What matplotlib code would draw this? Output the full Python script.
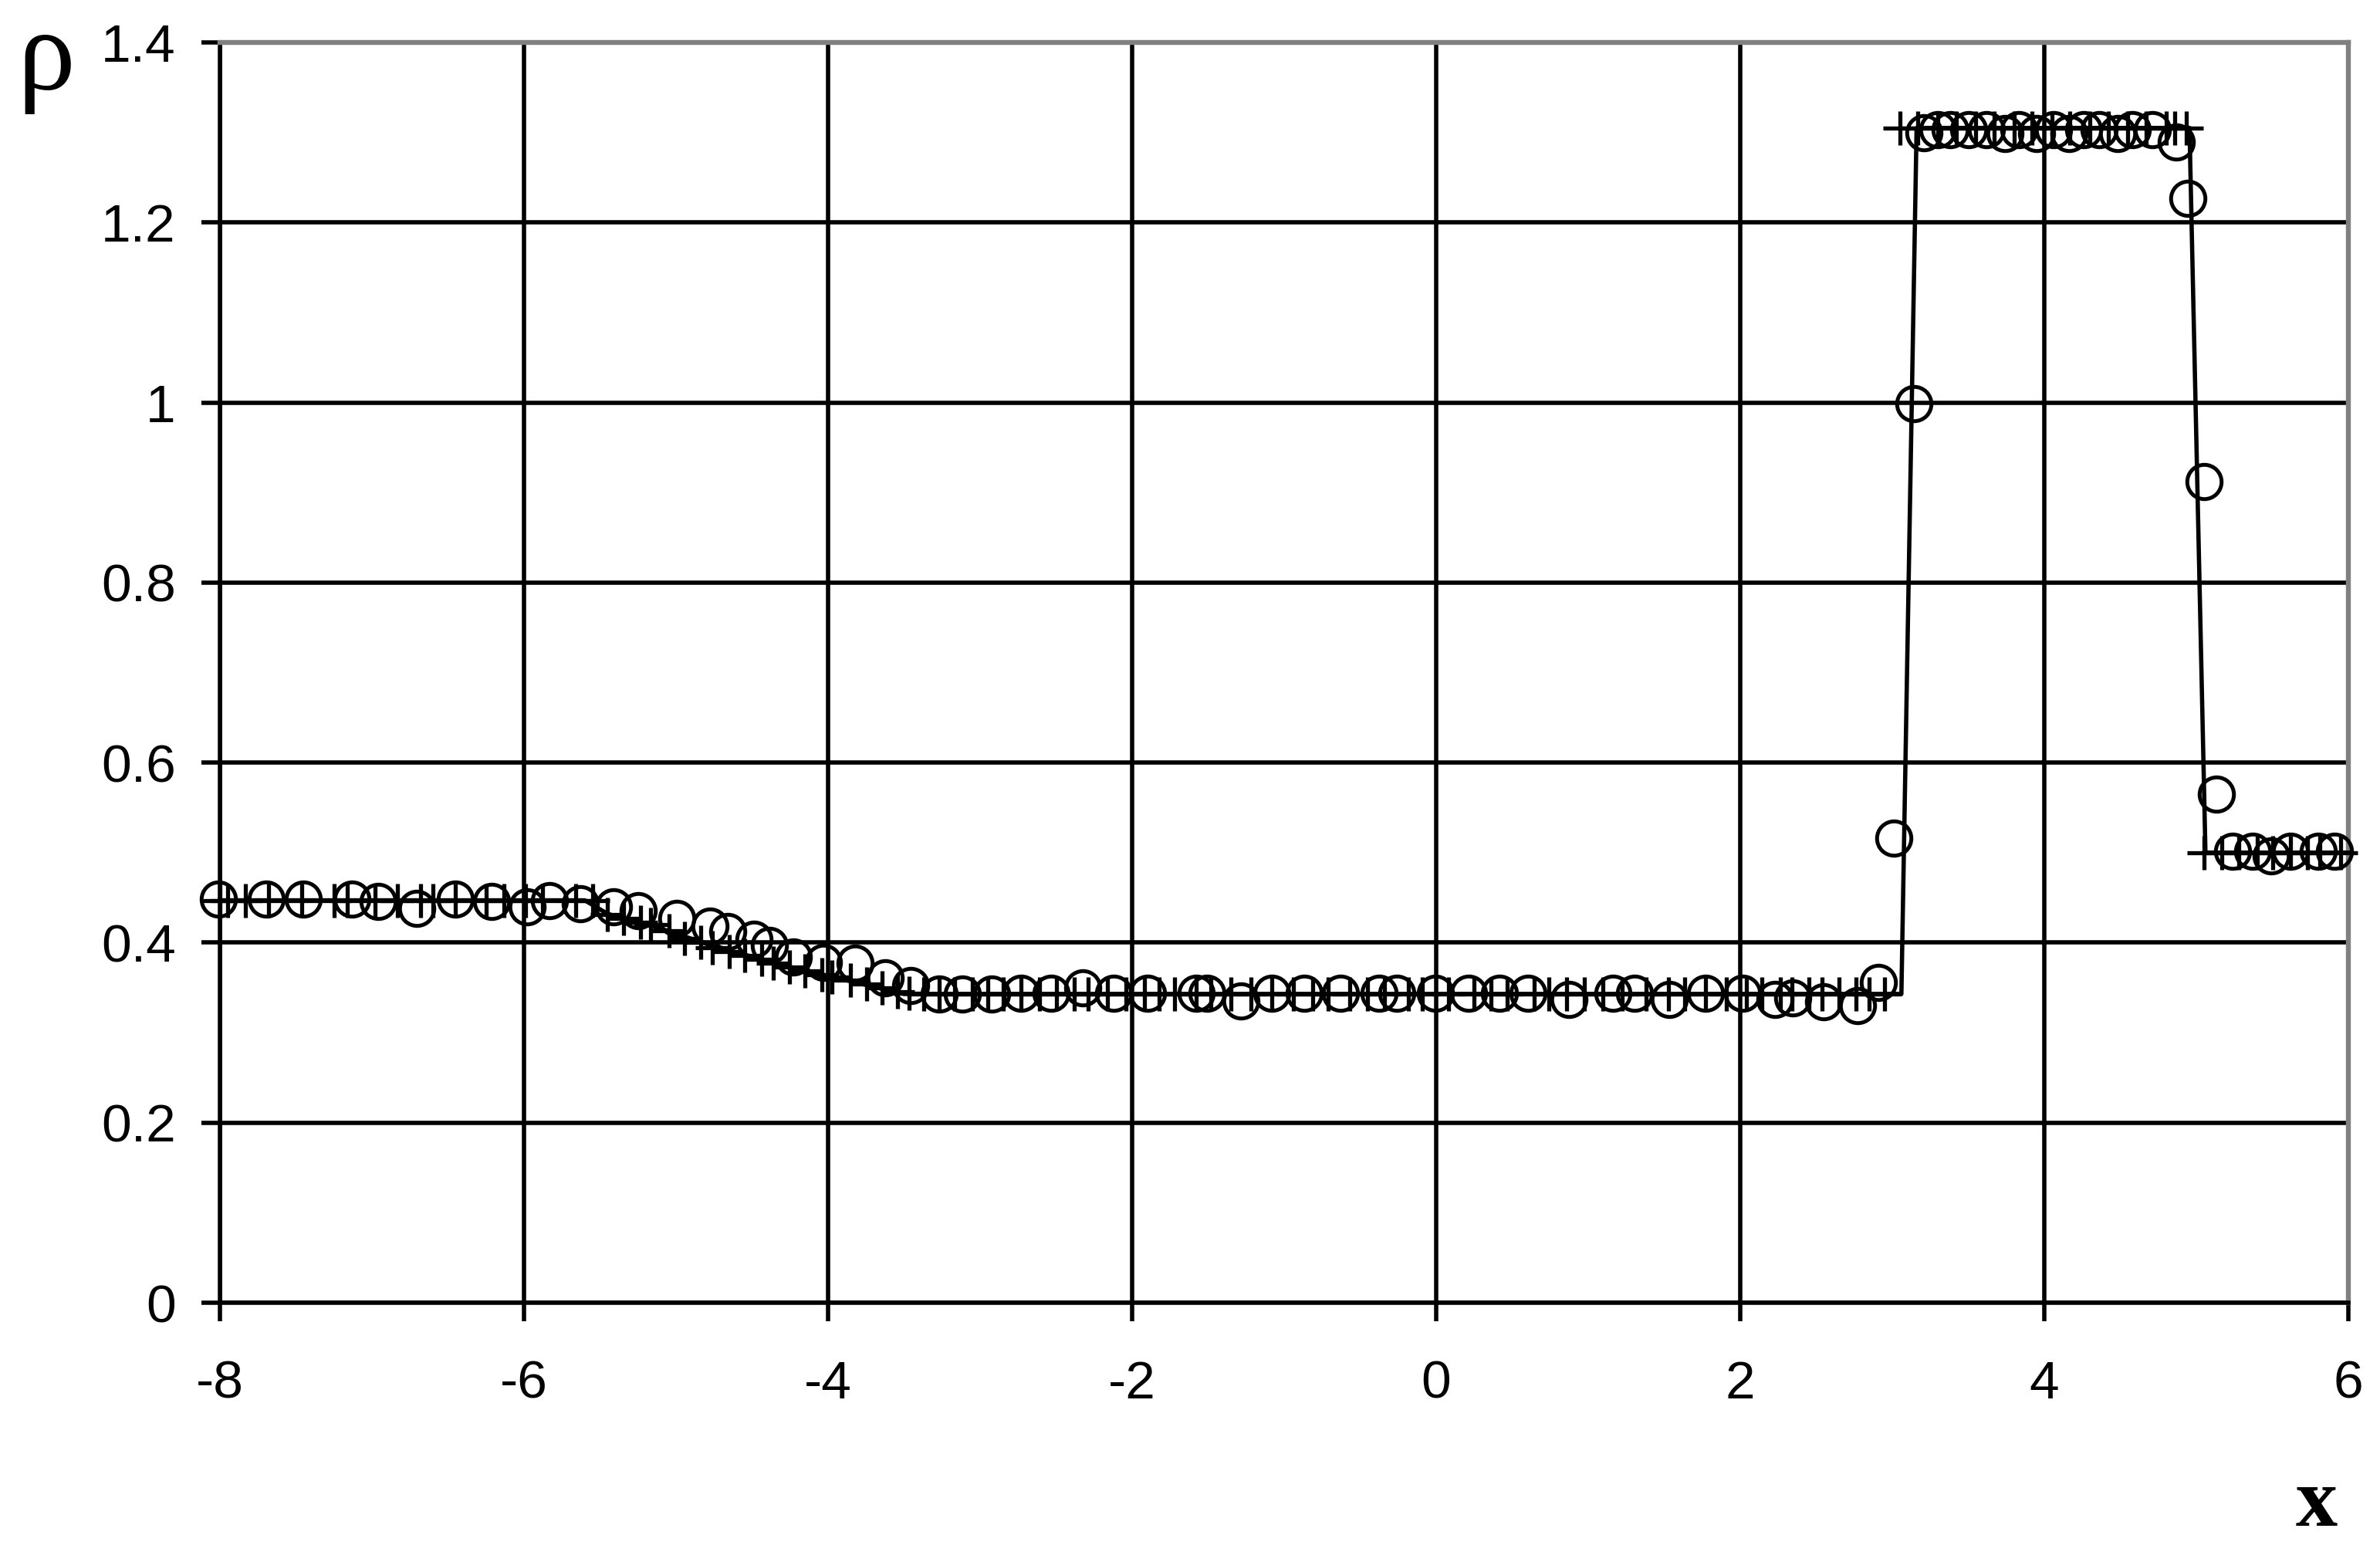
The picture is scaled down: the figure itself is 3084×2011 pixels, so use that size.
import matplotlib
matplotlib.use("Agg")
import matplotlib.pyplot as plt

plt.rcParams['axes.unicode_minus'] = False
plt.rcParams['font.family'] = ['Liberation Sans', 'DejaVu Sans']

# exact solution (solid line)
line_x = [-8.0, -5.6, -5.45, -5.05, -4.65, -4.25, -3.85, -3.5, 3.06, 3.16, 4.955, 5.06, 6.0]
line_y = [0.447, 0.447, 0.432, 0.413, 0.390, 0.373, 0.357, 0.343, 0.343, 1.305, 1.305, 0.5, 0.5]

# "+" series
plus_x = [-8.0, -7.95, -7.83, -7.68, -7.46, -7.25, -7.16, -6.98, -6.83, -6.68, -6.60, -6.45,
          -6.25, -6.13, -5.99, -5.88, -5.66, -5.55,
          -5.453, -5.344, -5.234, -5.166, -5.047, -4.946, -4.836, -4.760, -4.650, -4.548,
          -4.438, -4.362, -4.252, -4.151, -4.041, -3.973, -3.854, -3.745, -3.643, -3.542,
          -3.466, -3.37, -3.271, -3.17, -3.05, -2.95,
          -2.85, -2.73, -2.61, -2.50, -2.38, -2.29, -2.16, -2.04, -1.92, -1.82, -1.72, -1.58,
          -1.48, -1.35, -1.22, -1.08, -0.94, -0.81, -0.71, -0.57, -0.45, -0.34,
          -0.183, -0.090, 0.080, 0.249, 0.36, 0.469, 0.646, 0.740, 0.858, 0.976, 1.095,
          1.222, 1.383, 1.526, 1.636, 1.772, 1.907, 2.042, 2.144, 2.262, 2.34, 2.45, 2.54,
          2.65, 2.76, 2.85, 2.95,
          3.05, 3.17, 3.30, 3.42, 3.55, 3.67, 3.80, 3.92, 4.05, 4.17, 4.30, 4.42, 4.55,
          4.67, 4.80, 4.86, 4.935,
          5.05, 5.17, 5.28, 5.40, 5.50, 5.62, 5.73, 5.81, 5.95]
plus_y = [0.447] * 18 + \
         [0.4315, 0.4272, 0.4229, 0.4200, 0.4129, 0.4044, 0.4001, 0.3944, 0.3901, 0.3858,
          0.3815, 0.3772, 0.3729, 0.3687, 0.3644, 0.3620, 0.3587, 0.3544, 0.3501, 0.3458,
          0.3440, 0.343, 0.343, 0.343, 0.343, 0.343] + \
         [0.343] * 49 + \
         [1.305] * 17 + \
         [0.5] * 9

# "o" series (numerical solution)
circ_x = [-8.01, -7.695, -7.45, -7.13, -6.96, -6.706, -6.45, -6.215, -5.978, -5.83, -5.63,
          -5.411, -5.250, -4.996, -4.777, -4.658, -4.489, -4.387, -4.227, -4.032, -3.821,
          -3.626, -3.457, -3.271, -3.118, -2.924,
          -2.730, -2.535, -2.323, -2.120, -1.900, -1.580, -1.510, -1.283, -1.080, -0.868,
          -0.631, -0.377, -0.259, -0.005, 0.215, 0.418, 0.604, 0.875, 1.162, 1.306,
          1.535, 1.772, 2.017, 2.228, 2.345, 2.55, 2.77, 2.91,
          3.01, 3.14,
          3.21, 3.30, 3.38, 3.50, 3.62, 3.74, 3.83, 3.95, 4.06, 4.16, 4.26, 4.36, 4.48,
          4.58, 4.71, 4.868, 4.944,
          5.05, 5.13, 5.24, 5.37, 5.49, 5.62, 5.80, 5.91]
circ_y = [0.448, 0.448, 0.448, 0.448, 0.446, 0.438, 0.448, 0.446, 0.440, 0.447, 0.443,
          0.440, 0.4355, 0.427, 0.4184, 0.4127, 0.4041, 0.397, 0.3841, 0.3784, 0.377,
          0.3612, 0.3526, 0.3427, 0.3427, 0.343,
          0.344, 0.344, 0.350, 0.344, 0.344, 0.344, 0.344, 0.335, 0.344, 0.344,
          0.344, 0.344, 0.344, 0.344, 0.344, 0.344, 0.344, 0.337, 0.344, 0.344,
          0.337, 0.344, 0.344, 0.337, 0.339, 0.334, 0.330, 0.356,
          0.516, 0.999,
          1.300, 1.303, 1.303, 1.303, 1.303, 1.299, 1.303, 1.299, 1.303, 1.299, 1.303,
          1.303, 1.299, 1.303, 1.303, 1.289, 1.227,
          0.912, 0.565, 0.5016, 0.5016, 0.496, 0.5016, 0.5016, 0.5016]

x_ticks = [-8, -6, -4, -2, 0, 2, 4, 6]
x_labels = ['-8', '-6', '-4', '-2', '0', '2', '4', '6']
y_ticks = [0, 0.2, 0.4, 0.6, 0.8, 1.0, 1.2, 1.4]
y_labels = ['0', '0.2', '0.4', '0.6', '0.8', '1', '1.2', '1.4']

W, H, DPI = 3084, 2011, 200
fig = plt.figure(figsize=(W / DPI, H / DPI), dpi=DPI)
fig.patch.set_facecolor('white')
ax = fig.add_axes([285 / W, 1 - 1688 / H, (3043 - 285) / W, (1688 - 55) / H])

ax.set_xlim(-8, 6)
ax.set_ylim(0, 1.4)
ax.set_axisbelow(True)
ax.grid(True, color='black', linewidth=2.0)

ax.plot(line_x, line_y, color='black', linewidth=2.0, zorder=3, clip_on=False)
ax.plot(plus_x, plus_y, linestyle='none', marker='+', markersize=16,
        markeredgewidth=1.9, color='black', zorder=4, clip_on=False)
ax.plot(circ_x, circ_y, linestyle='none', marker='o', markersize=16,
        markeredgewidth=1.8, markerfacecolor='none', markeredgecolor='black',
        zorder=5, clip_on=False)

ax.set_xticks(x_ticks)
ax.set_xticklabels(x_labels)
ax.set_yticks(y_ticks)
ax.set_yticklabels(y_labels)
ax.tick_params(axis='x', direction='out', length=8.6, width=2.0, pad=18, labelsize=25)
ax.tick_params(axis='y', direction='out', length=8.6, width=2.0, pad=12, labelsize=25)

for s in ['left', 'bottom']:
    ax.spines[s].set_color('black')
    ax.spines[s].set_linewidth(2.0)
for s in ['top', 'right']:
    ax.spines[s].set_color('#808080')
    ax.spines[s].set_linewidth(2.3)

fig.text(60 / W, 1 - 116 / H, 'ρ', ha='center', va='baseline', fontsize=54,
         family=['Liberation Serif', 'DejaVu Serif'])
fig.text(3002 / W, 1 - 1977 / H, 'x', ha='center', va='baseline', fontsize=39,
         fontweight='bold', family=['Liberation Serif', 'DejaVu Serif'])

fig.savefig('out.png', dpi=DPI, facecolor='white')
